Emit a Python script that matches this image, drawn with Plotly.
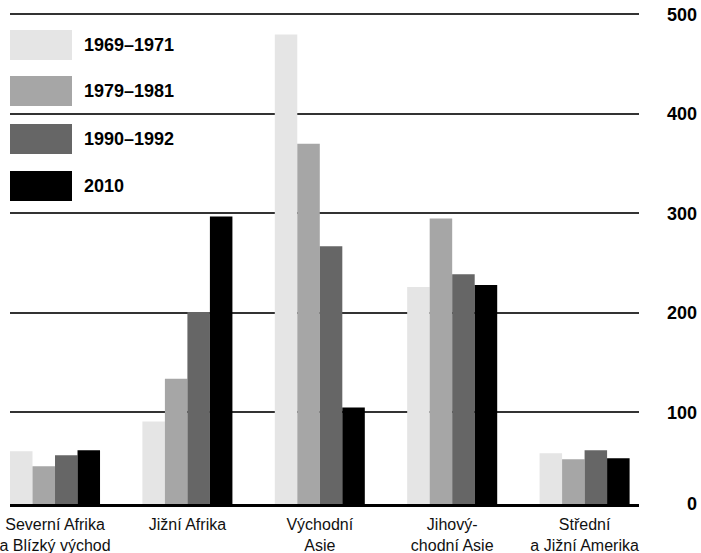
import plotly.graph_objects as go

categories = ["Severní Afrika<br>a Blízký východ", "Jižní Afrika", "Východní<br>Asie",
              "Jihový-<br>chodní Asie", "Střední<br>a Jižní Amerika"]
series_names = ["1969–1971", "1979–1981", "1990–1992", "2010"]
v_1969 = [61, 91, 480, 226, 59]
v_1979 = [46, 134, 370, 295, 53]
v_1990 = [57, 201, 267, 239, 62]
v_2010 = [62, 297, 105, 228, 54]
series_values = [v_1969, v_1979, v_1990, v_2010]
colors = ["#e5e5e5", "#a6a6a6", "#666666", "#000000"]
y_tickvals = [8, 100, 200, 300, 400, 500]
y_ticktext = ["\u2007\u20070", "100", "200", "300", "400", "500"]

W, H = 701, 553
L, R, T, B = 10, 62, 12, 49
pw, ph = W - L - R, H - T - B

fig = go.Figure()
xs = list(range(len(categories)))
for name, vals, col in zip(series_names, series_values, colors):
    fig.add_trace(go.Bar(x=xs, y=vals, name=name, marker=dict(color=col, line=dict(width=0)),
                         showlegend=False, hoverinfo="skip"))

def px_x(p):
    return (p - L) / pw

def px_y(p):
    return (H - B - p) / ph

# legend drawn as boxes
box_tops = [30, 76, 124, 171]
for name, col, top in zip(series_names, colors, box_tops):
    fig.add_shape(type="rect", xref="paper", yref="paper",
                  x0=px_x(10), x1=px_x(72), y0=px_y(top + 30), y1=px_y(top),
                  fillcolor=col, line=dict(width=0), layer="above")
    fig.add_annotation(xref="paper", yref="paper", x=px_x(82), y=px_y(top + 15),
                       xanchor="left", yanchor="middle", showarrow=False, text=name,
                       font=dict(family="Liberation Sans, Arial, sans-serif", size=18,
                                 color="#000000", weight="bold"))

fig.add_annotation(xref="paper", yref="paper", x=px_x(340), y=1 + (T - 2) / ph,
                   xanchor="center", yanchor="bottom", showarrow=False,
                   text="vyjádřeny v milionech",
                   font=dict(family="Liberation Sans, Arial, sans-serif", size=20,
                             color="#000000", weight="bold"))

fig.update_layout(
    width=W, height=H,
    margin=dict(l=L, r=R, t=T, b=B, pad=0, autoexpand=False),
    paper_bgcolor="white", plot_bgcolor="white",
    barmode="group", bargap=0.32, bargroupgap=0,
    showlegend=False,
    xaxis=dict(range=[-0.34, 4.411], tickmode="array", tickvals=xs, ticktext=categories,
               showgrid=False, zeroline=False, showline=True, linecolor="#000000",
               linewidth=2.5, ticks="", ticklabelstandoff=4, ticklabeloverflow="allow",
               automargin=False,
               tickfont=dict(family="Liberation Sans, Arial, sans-serif", size=16,
                             color="#111111")),
    yaxis=dict(range=[8.0, 502.5], side="right", tickmode="array", tickvals=y_tickvals,
               ticktext=y_ticktext, showgrid=True, gridcolor="#333333", gridwidth=1.5,
               zeroline=False, showline=False, ticks="", ticklabelstandoff=27,
               ticklabeloverflow="allow", automargin=False,
               tickfont=dict(family="Liberation Sans, Arial, sans-serif", size=18,
                             color="#000000", weight="bold")),
)

fig.write_html("out.html", config={"displayModeBar": False},
               post_script="document.body.style.margin='0';document.body.style.overflow='hidden';")
